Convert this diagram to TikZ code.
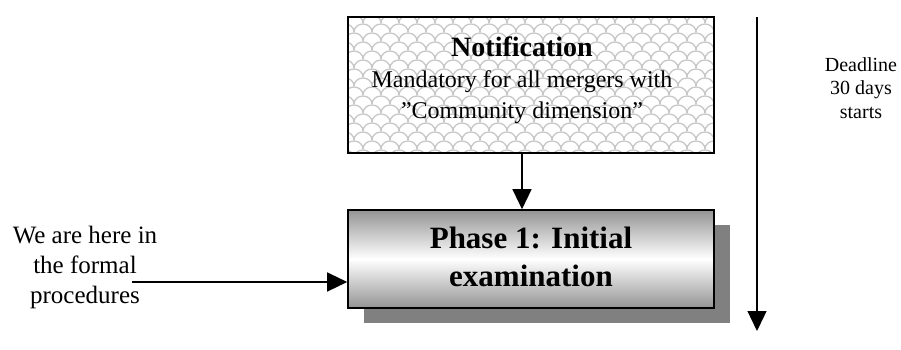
\documentclass[tikz,border=0pt]{standalone}
\usepackage{fontspec}
\setmainfont{Liberation Serif}
\usetikzlibrary{arrows.meta,calc}
\definecolor{hatch}{gray}{0.78}
\definecolor{shadowgray}{gray}{0.5}
\definecolor{endgray}{gray}{0.58}
\tikzset{
  boxframe/.style={draw=black, line width=1.6pt, rectangle, inner sep=0pt},
  conn/.style={draw=black, line width=1.3pt, -{Triangle[length=20pt,width=19pt]}},
  regtext/.style={anchor=base, inner sep=0pt, font=\fontsize{24}{30}\selectfont},
  boldtext/.style={anchor=base, inner sep=0pt, font=\fontsize{28}{30}\selectfont\bfseries},
  phasetext/.style={anchor=base, inner sep=0pt, font=\fontsize{31}{38}\selectfont\bfseries},
  sidetext/.style={anchor=base, inner sep=0pt, font=\fontsize{25}{30}\selectfont},
  smalltext/.style={anchor=base, inner sep=0pt, font=\fontsize{20}{23}\selectfont},
}
\begin{document}
\begin{tikzpicture}[x=1pt,y=-1pt]
\useasboundingbox (0,0) rectangle (901,350);
% Notification box with shingle texture
\node[boxframe, minimum width=366pt, minimum height=136pt, fill=white] (notif) at (531,85) {};
\begin{scope}
  \clip (348,17) rectangle (714,153);
  \foreach \j in {0,...,16} {
    \pgfmathsetmacro{\yy}{14+9*\j}
    \pgfmathsetmacro{\off}{mod(\j,2)*9}
    \foreach \i in {0,...,21} {
      \draw[hatch, line width=1.3pt] ({336+\off+18*\i},\yy) arc[start angle=180, end angle=0, x radius=9, y radius=-8];
    }
  }
\end{scope}
\node[boxframe, minimum width=366pt, minimum height=136pt] (notifframe) at (531,85) {};
\node[boldtext] (t1) at (522,57) {Notification};
\node[regtext] (t2) at (522,88) {Mandatory for all mergers with};
\node[regtext] (t3) at (522,118) {”Community dimension”};
% Phase box with shadow
\node[rectangle, fill=shadowgray, minimum width=366pt, minimum height=98pt, inner sep=0pt] (shadow) at (547,274) {};
\node[boxframe, minimum width=366pt, minimum height=98pt, top color=endgray, bottom color=endgray, middle color=white] (phase) at (531,259) {};
\node[phasetext] (p1) at (531,248) {Phase 1: Initial};
\node[phasetext] (p2) at (531,286) {examination};
% connectors
\draw[conn] ($(notif.south)+(-9,0)$) -- ($(phase.north)+(-9,0)$);
\node[sidetext] (w1) at (85,243) {We are here in};
\node[sidetext] (w2) at (85,273) {the formal};
\node[sidetext] (w3) at (85,303) {procedures};
\coordinate (lstart) at (132,282);
\draw[conn] (lstart) -- (lstart -| phase.west);
% deadline
\coordinate (dtop) at (757,17);
\coordinate (dbot) at (757,331);
\draw[conn] (dtop) -- (dbot);
\node[smalltext] (d1) at (861,72) {Deadline};
\node[smalltext] (d2) at (861,95) {30 days};
\node[smalltext] (d3) at (861,118) {starts};
\end{tikzpicture}
\end{document}
